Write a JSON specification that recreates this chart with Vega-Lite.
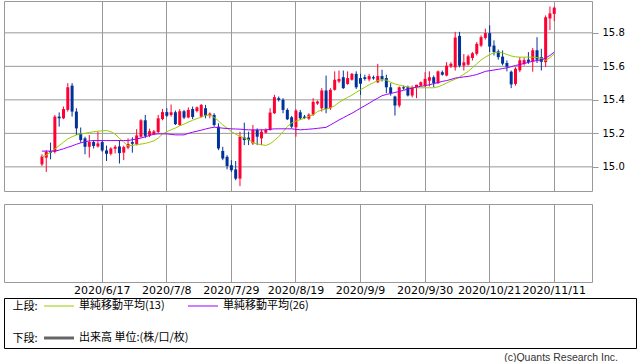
{
"$schema":"https://vega.github.io/schema/vega-lite/v6.json",
"padding":{"left":3,"top":0,"right":0,"bottom":0},
"config":{"view":{"stroke":"#999999"},"axis":{"labelColor":"#000000"}},
"datasets":{
"px":[
{"d":"2020/5/28","o":15.015,"h":15.075,"l":15.005,"c":15.062,"m13":15.060,"m26":15.094},
{"d":"2020/5/29","o":15.055,"h":15.100,"l":14.970,"c":15.090,"m13":15.070,"m26":15.094},
{"d":"2020/6/1","o":15.095,"h":15.145,"l":15.045,"c":15.085,"m13":15.088,"m26":15.094},
{"d":"2020/6/2","o":15.090,"h":15.310,"l":15.080,"c":15.300,"m13":15.108,"m26":15.094},
{"d":"2020/6/3","o":15.300,"h":15.325,"l":15.240,"c":15.290,"m13":15.127,"m26":15.100},
{"d":"2020/6/4","o":15.290,"h":15.360,"l":15.285,"c":15.345,"m13":15.147,"m26":15.108},
{"d":"2020/6/5","o":15.340,"h":15.500,"l":15.330,"c":15.475,"m13":15.167,"m26":15.117},
{"d":"2020/6/8","o":15.485,"h":15.500,"l":15.300,"c":15.330,"m13":15.180,"m26":15.125},
{"d":"2020/6/9","o":15.330,"h":15.350,"l":15.190,"c":15.230,"m13":15.190,"m26":15.135},
{"d":"2020/6/10","o":15.200,"h":15.235,"l":15.145,"c":15.160,"m13":15.197,"m26":15.143},
{"d":"2020/6/11","o":15.170,"h":15.180,"l":15.075,"c":15.120,"m13":15.200,"m26":15.150},
{"d":"2020/6/12","o":15.120,"h":15.190,"l":15.055,"c":15.148,"m13":15.205,"m26":15.155},
{"d":"2020/6/15","o":15.148,"h":15.160,"l":15.110,"c":15.125,"m13":15.210,"m26":15.157},
{"d":"2020/6/16","o":15.122,"h":15.210,"l":15.115,"c":15.140,"m13":15.213,"m26":15.157},
{"d":"2020/6/17","o":15.148,"h":15.157,"l":15.090,"c":15.098,"m13":15.215,"m26":15.157},
{"d":"2020/6/18","o":15.098,"h":15.127,"l":15.035,"c":15.078,"m13":15.217,"m26":15.157},
{"d":"2020/6/19","o":15.078,"h":15.117,"l":15.068,"c":15.110,"m13":15.210,"m26":15.157},
{"d":"2020/6/22","o":15.108,"h":15.130,"l":15.080,"c":15.120,"m13":15.195,"m26":15.157},
{"d":"2020/6/23","o":15.122,"h":15.160,"l":15.020,"c":15.082,"m13":15.170,"m26":15.157},
{"d":"2020/6/24","o":15.085,"h":15.127,"l":15.040,"c":15.118,"m13":15.148,"m26":15.157},
{"d":"2020/6/25","o":15.115,"h":15.170,"l":15.105,"c":15.137,"m13":15.125,"m26":15.157},
{"d":"2020/6/26","o":15.148,"h":15.177,"l":15.085,"c":15.138,"m13":15.128,"m26":15.162},
{"d":"2020/6/29","o":15.135,"h":15.225,"l":15.128,"c":15.188,"m13":15.133,"m26":15.167},
{"d":"2020/6/30","o":15.180,"h":15.285,"l":15.175,"c":15.278,"m13":15.136,"m26":15.172},
{"d":"2020/7/1","o":15.278,"h":15.310,"l":15.172,"c":15.185,"m13":15.140,"m26":15.180},
{"d":"2020/7/2","o":15.188,"h":15.228,"l":15.178,"c":15.213,"m13":15.147,"m26":15.187},
{"d":"2020/7/3","o":15.195,"h":15.220,"l":15.190,"c":15.212,"m13":15.155,"m26":15.195},
{"d":"2020/7/6","o":15.208,"h":15.310,"l":15.200,"c":15.290,"m13":15.172,"m26":15.197},
{"d":"2020/7/7","o":15.285,"h":15.346,"l":15.278,"c":15.327,"m13":15.195,"m26":15.197},
{"d":"2020/7/8","o":15.327,"h":15.350,"l":15.297,"c":15.305,"m13":15.210,"m26":15.197},
{"d":"2020/7/9","o":15.310,"h":15.372,"l":15.300,"c":15.326,"m13":15.221,"m26":15.194},
{"d":"2020/7/10","o":15.326,"h":15.336,"l":15.250,"c":15.255,"m13":15.232,"m26":15.191},
{"d":"2020/7/13","o":15.250,"h":15.345,"l":15.245,"c":15.332,"m13":15.245,"m26":15.191},
{"d":"2020/7/14","o":15.332,"h":15.340,"l":15.285,"c":15.294,"m13":15.255,"m26":15.191},
{"d":"2020/7/15","o":15.295,"h":15.355,"l":15.290,"c":15.340,"m13":15.267,"m26":15.200},
{"d":"2020/7/16","o":15.345,"h":15.360,"l":15.285,"c":15.298,"m13":15.278,"m26":15.207},
{"d":"2020/7/17","o":15.333,"h":15.360,"l":15.325,"c":15.355,"m13":15.288,"m26":15.213},
{"d":"2020/7/20","o":15.300,"h":15.375,"l":15.295,"c":15.370,"m13":15.296,"m26":15.219},
{"d":"2020/7/21","o":15.350,"h":15.370,"l":15.290,"c":15.305,"m13":15.308,"m26":15.226},
{"d":"2020/7/22","o":15.308,"h":15.325,"l":15.290,"c":15.318,"m13":15.310,"m26":15.232},
{"d":"2020/7/23","o":15.310,"h":15.320,"l":15.240,"c":15.250,"m13":15.295,"m26":15.237},
{"d":"2020/7/24","o":15.240,"h":15.260,"l":15.100,"c":15.110,"m13":15.275,"m26":15.234},
{"d":"2020/7/27","o":15.095,"h":15.120,"l":15.040,"c":15.050,"m13":15.250,"m26":15.231},
{"d":"2020/7/28","o":15.060,"h":15.070,"l":14.985,"c":15.005,"m13":15.232,"m26":15.229},
{"d":"2020/7/29","o":15.010,"h":15.040,"l":14.970,"c":14.980,"m13":15.210,"m26":15.227},
{"d":"2020/7/30","o":14.985,"h":15.035,"l":14.920,"c":14.930,"m13":15.195,"m26":15.226},
{"d":"2020/7/31","o":14.930,"h":15.210,"l":14.885,"c":15.180,"m13":15.183,"m26":15.225},
{"d":"2020/8/3","o":15.176,"h":15.264,"l":15.130,"c":15.160,"m13":15.172,"m26":15.223},
{"d":"2020/8/4","o":15.175,"h":15.210,"l":15.130,"c":15.160,"m13":15.163,"m26":15.221},
{"d":"2020/8/5","o":15.140,"h":15.250,"l":15.130,"c":15.220,"m13":15.145,"m26":15.221},
{"d":"2020/8/6","o":15.220,"h":15.230,"l":15.130,"c":15.180,"m13":15.137,"m26":15.221},
{"d":"2020/8/7","o":15.170,"h":15.224,"l":15.130,"c":15.210,"m13":15.132,"m26":15.221},
{"d":"2020/8/10","o":15.204,"h":15.230,"l":15.200,"c":15.220,"m13":15.128,"m26":15.221},
{"d":"2020/8/11","o":15.220,"h":15.350,"l":15.216,"c":15.324,"m13":15.138,"m26":15.224},
{"d":"2020/8/12","o":15.320,"h":15.430,"l":15.316,"c":15.416,"m13":15.158,"m26":15.227},
{"d":"2020/8/13","o":15.410,"h":15.420,"l":15.390,"c":15.400,"m13":15.180,"m26":15.227},
{"d":"2020/8/14","o":15.400,"h":15.410,"l":15.320,"c":15.340,"m13":15.210,"m26":15.227},
{"d":"2020/8/17","o":15.340,"h":15.350,"l":15.280,"c":15.284,"m13":15.240,"m26":15.227},
{"d":"2020/8/18","o":15.296,"h":15.304,"l":15.230,"c":15.240,"m13":15.262,"m26":15.227},
{"d":"2020/8/19","o":15.236,"h":15.344,"l":15.180,"c":15.336,"m13":15.273,"m26":15.224},
{"d":"2020/8/20","o":15.326,"h":15.340,"l":15.280,"c":15.290,"m13":15.282,"m26":15.221},
{"d":"2020/8/21","o":15.300,"h":15.310,"l":15.285,"c":15.292,"m13":15.290,"m26":15.223},
{"d":"2020/8/24","o":15.288,"h":15.320,"l":15.280,"c":15.312,"m13":15.302,"m26":15.225},
{"d":"2020/8/25","o":15.312,"h":15.410,"l":15.305,"c":15.388,"m13":15.310,"m26":15.227},
{"d":"2020/8/26","o":15.378,"h":15.396,"l":15.370,"c":15.390,"m13":15.330,"m26":15.230},
{"d":"2020/8/27","o":15.350,"h":15.470,"l":15.330,"c":15.456,"m13":15.340,"m26":15.233},
{"d":"2020/8/28","o":15.456,"h":15.545,"l":15.320,"c":15.345,"m13":15.345,"m26":15.236},
{"d":"2020/8/31","o":15.350,"h":15.470,"l":15.340,"c":15.460,"m13":15.352,"m26":15.250},
{"d":"2020/9/1","o":15.460,"h":15.570,"l":15.455,"c":15.520,"m13":15.365,"m26":15.265},
{"d":"2020/9/2","o":15.510,"h":15.575,"l":15.500,"c":15.525,"m13":15.385,"m26":15.280},
{"d":"2020/9/3","o":15.535,"h":15.575,"l":15.465,"c":15.470,"m13":15.400,"m26":15.293},
{"d":"2020/9/4","o":15.495,"h":15.570,"l":15.490,"c":15.530,"m13":15.415,"m26":15.307},
{"d":"2020/9/7","o":15.520,"h":15.560,"l":15.515,"c":15.555,"m13":15.428,"m26":15.320},
{"d":"2020/9/8","o":15.555,"h":15.570,"l":15.465,"c":15.475,"m13":15.445,"m26":15.335},
{"d":"2020/9/9","o":15.530,"h":15.556,"l":15.430,"c":15.496,"m13":15.460,"m26":15.350},
{"d":"2020/9/10","o":15.535,"h":15.550,"l":15.515,"c":15.525,"m13":15.475,"m26":15.365},
{"d":"2020/9/11","o":15.522,"h":15.555,"l":15.510,"c":15.542,"m13":15.490,"m26":15.380},
{"d":"2020/9/14","o":15.535,"h":15.545,"l":15.520,"c":15.528,"m13":15.502,"m26":15.396},
{"d":"2020/9/15","o":15.505,"h":15.615,"l":15.500,"c":15.542,"m13":15.515,"m26":15.410},
{"d":"2020/9/16","o":15.542,"h":15.580,"l":15.510,"c":15.522,"m13":15.520,"m26":15.425},
{"d":"2020/9/17","o":15.530,"h":15.550,"l":15.440,"c":15.475,"m13":15.518,"m26":15.432},
{"d":"2020/9/18","o":15.475,"h":15.500,"l":15.425,"c":15.440,"m13":15.505,"m26":15.438},
{"d":"2020/9/21","o":15.420,"h":15.425,"l":15.306,"c":15.366,"m13":15.495,"m26":15.444},
{"d":"2020/9/22","o":15.366,"h":15.480,"l":15.355,"c":15.475,"m13":15.488,"m26":15.450},
{"d":"2020/9/23","o":15.475,"h":15.485,"l":15.460,"c":15.468,"m13":15.482,"m26":15.457},
{"d":"2020/9/24","o":15.475,"h":15.485,"l":15.420,"c":15.426,"m13":15.478,"m26":15.464},
{"d":"2020/9/25","o":15.426,"h":15.485,"l":15.415,"c":15.475,"m13":15.474,"m26":15.470},
{"d":"2020/9/28","o":15.475,"h":15.490,"l":15.410,"c":15.490,"m13":15.472,"m26":15.476},
{"d":"2020/9/29","o":15.485,"h":15.510,"l":15.480,"c":15.505,"m13":15.472,"m26":15.481},
{"d":"2020/9/30","o":15.485,"h":15.565,"l":15.475,"c":15.525,"m13":15.472,"m26":15.485},
{"d":"2020/10/1","o":15.514,"h":15.570,"l":15.480,"c":15.535,"m13":15.472,"m26":15.490},
{"d":"2020/10/2","o":15.535,"h":15.545,"l":15.476,"c":15.500,"m13":15.472,"m26":15.497},
{"d":"2020/10/5","o":15.500,"h":15.575,"l":15.495,"c":15.570,"m13":15.478,"m26":15.503},
{"d":"2020/10/6","o":15.565,"h":15.575,"l":15.545,"c":15.550,"m13":15.488,"m26":15.510},
{"d":"2020/10/7","o":15.545,"h":15.625,"l":15.540,"c":15.604,"m13":15.500,"m26":15.515},
{"d":"2020/10/8","o":15.600,"h":15.625,"l":15.590,"c":15.615,"m13":15.513,"m26":15.522},
{"d":"2020/10/9","o":15.594,"h":15.806,"l":15.575,"c":15.772,"m13":15.523,"m26":15.530},
{"d":"2020/10/12","o":15.782,"h":15.806,"l":15.594,"c":15.604,"m13":15.537,"m26":15.533},
{"d":"2020/10/13","o":15.604,"h":15.673,"l":15.575,"c":15.624,"m13":15.552,"m26":15.537},
{"d":"2020/10/14","o":15.610,"h":15.670,"l":15.605,"c":15.660,"m13":15.570,"m26":15.540},
{"d":"2020/10/15","o":15.650,"h":15.685,"l":15.635,"c":15.678,"m13":15.592,"m26":15.545},
{"d":"2020/10/16","o":15.675,"h":15.745,"l":15.665,"c":15.734,"m13":15.615,"m26":15.551},
{"d":"2020/10/19","o":15.724,"h":15.785,"l":15.715,"c":15.774,"m13":15.638,"m26":15.560},
{"d":"2020/10/20","o":15.770,"h":15.825,"l":15.760,"c":15.798,"m13":15.655,"m26":15.570},
{"d":"2020/10/21","o":15.798,"h":15.845,"l":15.685,"c":15.718,"m13":15.670,"m26":15.574},
{"d":"2020/10/22","o":15.724,"h":15.755,"l":15.665,"c":15.685,"m13":15.680,"m26":15.578},
{"d":"2020/10/23","o":15.690,"h":15.700,"l":15.640,"c":15.655,"m13":15.685,"m26":15.582},
{"d":"2020/10/26","o":15.658,"h":15.695,"l":15.606,"c":15.616,"m13":15.680,"m26":15.587},
{"d":"2020/10/27","o":15.620,"h":15.635,"l":15.570,"c":15.598,"m13":15.671,"m26":15.591},
{"d":"2020/10/28","o":15.568,"h":15.575,"l":15.470,"c":15.492,"m13":15.662,"m26":15.598},
{"d":"2020/10/29","o":15.495,"h":15.595,"l":15.485,"c":15.586,"m13":15.657,"m26":15.605},
{"d":"2020/10/30","o":15.576,"h":15.655,"l":15.565,"c":15.636,"m13":15.655,"m26":15.611},
{"d":"2020/11/2","o":15.615,"h":15.652,"l":15.605,"c":15.637,"m13":15.655,"m26":15.617},
{"d":"2020/11/3","o":15.640,"h":15.685,"l":15.615,"c":15.627,"m13":15.655,"m26":15.624},
{"d":"2020/11/4","o":15.630,"h":15.710,"l":15.568,"c":15.696,"m13":15.655,"m26":15.630},
{"d":"2020/11/5","o":15.696,"h":15.774,"l":15.620,"c":15.640,"m13":15.652,"m26":15.635},
{"d":"2020/11/6","o":15.655,"h":15.705,"l":15.575,"c":15.627,"m13":15.648,"m26":15.638},
{"d":"2020/11/9","o":15.625,"h":15.904,"l":15.597,"c":15.893,"m13":15.635,"m26":15.650},
{"d":"2020/11/10","o":15.886,"h":15.957,"l":15.816,"c":15.916,"m13":15.652,"m26":15.665},
{"d":"2020/11/11","o":15.913,"h":15.957,"l":15.870,"c":15.950,"m13":15.675,"m26":15.685}
],
"grid":[{"v":15.0},{"v":15.2},{"v":15.4},{"v":15.6},{"v":15.8}],
"leg":[
{"seg":"上段:","col":"a","kind":"ma13","label":"単純移動平均(13)"},
{"seg":"上段:","col":"b","kind":"ma26","label":"単純移動平均(26)"},
{"seg":"下段:","col":"a","kind":"vol","label":"出来高 単位:(株/口/枚)"}
]
},
"spacing":1,
"vconcat":[
{
"spacing":11,
"resolve":{"scale":{"x":"shared"}},
"vconcat":[
{
"width":588,"height":190,
"layer":[
{"data":{"name":"grid"},
"mark":{"type":"rule","color":"#999999","strokeWidth":1},
"encoding":{"y":{"field":"v","type":"quantitative","title":null,
"scale":{"domain":[14.856,15.99],"zero":false,"nice":false},
"axis":{"orient":"right","values":[15.0,15.2,15.4,15.6,15.8],"format":".1f","grid":false,"ticks":true,"tickColor":"#999999","tickSize":6,"domain":false,"labelFont":"DejaVu Sans","labelFontSize":10,"labelPadding":4}}}},
{"data":{"name":"px"},
"mark":{"type":"rule","strokeWidth":1},
"encoding":{
"x":{"field":"d","type":"ordinal","sort":null,"title":null,
"scale":{"type":"band","paddingInner":0,"paddingOuter":0,"range":[35.8,552.4]},
"axis":{"values":["2020/6/17","2020/7/8","2020/7/29","2020/8/19","2020/9/9","2020/9/30","2020/10/21","2020/11/11"],"labels":false,"ticks":false,"domain":false,"grid":true,"gridColor":"#999999","gridOpacity":1,"bandPosition":0.5}},
"y":{"field":"l","type":"quantitative","title":null},
"y2":{"field":"h"},
"color":{"condition":{"test":"datum.c >= datum.o","value":"#ff0033"},"value":"#003399"}}},
{"data":{"name":"px"},
"mark":{"type":"bar","size":3},
"encoding":{
"x":{"field":"d","type":"ordinal","sort":null,"title":null},
"y":{"field":"o","type":"quantitative","title":null},"y2":{"field":"c"},
"color":{"condition":{"test":"datum.c >= datum.o","value":"#ff0033"},"value":"#003399"}}},
{"data":{"name":"px"},
"mark":{"type":"line","strokeWidth":1,"color":"#99cc00"},
"encoding":{"x":{"field":"d","type":"ordinal","sort":null,"title":null},"y":{"field":"m13","type":"quantitative","title":null}}},
{"data":{"name":"px"},
"mark":{"type":"line","strokeWidth":1,"color":"#9900ff"},
"encoding":{"x":{"field":"d","type":"ordinal","sort":null,"title":null},"y":{"field":"m26","type":"quantitative","title":null}}}
]
},
{
"width":588,"height":78,
"data":{"name":"px"},
"mark":{"type":"rule","opacity":0},
"encoding":{"x":{"field":"d","type":"ordinal","sort":null,"title":null,
"scale":{"type":"band","paddingInner":0,"paddingOuter":0,"range":[35.8,552.4]},
"axis":{"values":["2020/6/17","2020/7/8","2020/7/29","2020/8/19","2020/9/9","2020/9/30","2020/10/21","2020/11/11"],"labelAngle":0,"labelOverlap":false,"labelBound":false,"labelFont":"DejaVu Sans","labelFontSize":11,"labelPadding":2,"ticks":false,"domain":false,"grid":true,"gridColor":"#999999","gridOpacity":1,"bandPosition":0.5}}}
}
]
},
{
"width":632,"height":50,
"view":{"stroke":"#000000","strokeWidth":1},
"data":{"name":"leg"},
"title":{"text":"(c)Quants Research Inc.","orient":"bottom","anchor":"end","dx":-18,"offset":5,"font":"Liberation Sans","fontSize":10.5,"fontWeight":"normal","color":"#333333"},
"encoding":{
"y":{"field":"seg","type":"nominal","sort":null,"title":null,
"scale":{"type":"point","domain":["上段:","下段:"],"range":[8,40],"padding":0},
"axis":{"ticks":false,"domain":false,"grid":false,"labelAlign":"left","labelPadding":-8,"labelFont":"Noto Sans CJK JP","labelFontSize":11}},
"x":{"field":"col","type":"nominal","title":null,"scale":{"type":"point","domain":["a","b"],"range":[55,199],"padding":0},"axis":null}
},
"layer":[
{"mark":{"type":"point","shape":"stroke","size":900,"filled":false,"opacity":1},
"encoding":{"color":{"field":"kind","type":"nominal","scale":{"domain":["ma13","ma26","vol"],"range":["#99cc00","#9900ff","#666666"]},"legend":null},
"strokeWidth":{"condition":{"test":"datum.kind === 'vol'","value":3},"value":1}}},
{"mark":{"type":"text","align":"left","baseline":"middle","dx":20,"font":"Noto Sans CJK JP","fontSize":11,"color":"#000000"},
"encoding":{"text":{"field":"label"}}}
]
}
]
}
